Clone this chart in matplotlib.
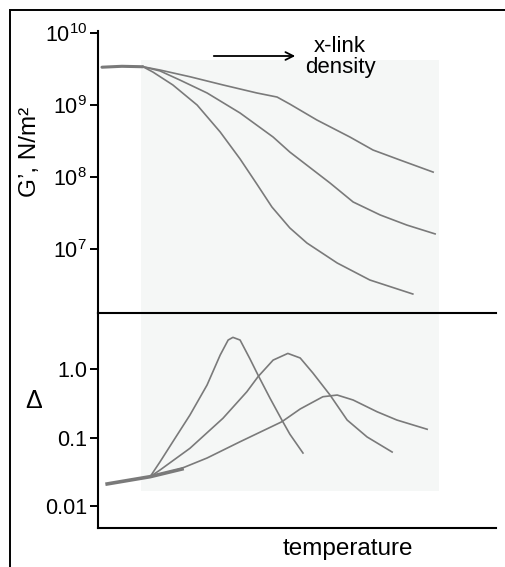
import numpy as np
import matplotlib
matplotlib.use('Agg')
import matplotlib.pyplot as plt
from matplotlib.patches import Rectangle, FancyArrowPatch

plt.rcParams['font.family'] = ['Liberation Sans', 'DejaVu Sans']
plt.rcParams['mathtext.fontset'] = 'custom'
plt.rcParams['mathtext.rm'] = 'Liberation Sans'
plt.rcParams['mathtext.it'] = 'Liberation Sans'

# --- modulus G' (top panel), temperature in arbitrary units 0..100
plateau_t = [1.0, 6.0, 11.3]
plateau_g = [3.35e9, 3.45e9, 3.4e9]

g_low_t = [11.3, 13.8, 18.8, 24.9, 30.7, 35.7, 39.9, 43.7, 48.2, 52.5, 60.1, 68.3, 79.1]
g_low = [3.4e9, 2.87e9, 1.9e9, 1.0e9, 4.22e8, 1.78e8, 8.0e7, 3.83e7, 1.96e7, 1.21e7,
         6.39e6, 3.71e6, 2.37e6]

g_mid_t = [11.3, 15.6, 20.6, 27.4, 35.7, 44.0, 48.2, 58.3, 64.1, 70.9, 77.6, 84.7]
g_mid = [3.4e9, 2.97e9, 2.22e9, 1.47e9, 7.74e8, 3.59e8, 2.22e8, 8.25e7,
         4.5e7, 2.97e7, 2.15e7, 1.62e7]

g_high_t = [11.3, 15.6, 23.1, 31.4, 39.9, 45.0, 48.2, 55.0, 63.3, 69.1, 75.9, 84.2]
g_high = [3.4e9, 3.06e9, 2.47e9, 1.9e9, 1.47e9, 1.29e9, 1.03e9, 6.19e8, 3.59e8,
          2.37e8, 1.72e8, 1.17e8]

# --- damping (bottom panel)
base_t = [2.3, 13.1, 21.1]
base_d = [0.021, 0.0268, 0.0347]

d_low_t = [13.1, 15.6, 18.8, 23.1, 27.4, 30.7, 32.7, 33.9, 35.7, 38.2, 40.2, 43.2,
           46.2, 48.2, 51.5]
d_low = [0.0268, 0.0443, 0.0868, 0.213, 0.584, 1.60, 2.65, 2.90, 2.65, 1.40, 0.817,
         0.377, 0.180, 0.112, 0.0594]

d_mid_t = [13.1, 15.6, 23.1, 31.4, 37.4, 40.2, 44.0, 47.7, 50.8, 54.0, 58.3, 62.6,
           67.6, 73.9]
d_mid = [0.0268, 0.0336, 0.0696, 0.191, 0.466, 0.772, 1.35, 1.69, 1.45, 0.874, 0.417,
         0.180, 0.102, 0.0614]

d_high_t = [13.1, 20.6, 27.4, 35.7, 46.2, 50.8, 56.5, 60.1, 64.1, 70.1, 75.1, 82.7]
d_high = [0.0268, 0.0347, 0.0502, 0.0868, 0.170, 0.261, 0.394, 0.417, 0.353, 0.238,
          0.180, 0.132]

g_ticks = [1e7, 1e8, 1e9, 1e10]
g_labels = ['$10^7$', '$10^8$', '$10^9$', '$10^{10}$']
d_ticks = [0.01, 0.1, 1.0]
d_labels = ['0.01', '0.1', '1.0']

W, H = 506, 567
fig = plt.figure(figsize=(W / 100, H / 100), dpi=100)

# light shaded region behind the curves
fig.patches.append(Rectangle((141 / W, 1 - 491 / H), (439 - 141) / W, (491 - 60) / H,
                             transform=fig.transFigure, facecolor='#f5f7f6',
                             edgecolor='none', zorder=-2))
# outer frame
fig.patches.append(Rectangle((10 / W, -0.1), 1.2, 1 - 10 / H + 0.1,
                             transform=fig.transFigure, facecolor='none',
                             edgecolor='black', lw=1.4, zorder=-1, clip_on=False))

ax1 = fig.add_axes([98 / W, 1 - 313 / H, 398 / W, (313 - 31) / H])
ax2 = fig.add_axes([98 / W, 1 - 528 / H, 398 / W, (528 - 313) / H])

col = '#7a7a7a'
lw = 1.2
ax1.plot(plateau_t, plateau_g, color=col, lw=2.2, solid_capstyle='round')
for t, g in [(g_low_t, g_low), (g_mid_t, g_mid), (g_high_t, g_high)]:
    ax1.plot(t, g, color=col, lw=lw, solid_joinstyle='round')

ax2.plot(base_t, base_d, color=col, lw=2.6)
for t, d in [(d_low_t, d_low), (d_mid_t, d_mid), (d_high_t, d_high)]:
    ax2.plot(t, d, color=col, lw=lw, solid_joinstyle='round')

ax1.set_yscale('log')
ax1.set_ylim(10 ** 6.111, 10 ** 10.028)
ax2.set_yscale('log')
ax2.set_ylim(10 ** -2.321, 10 ** 0.818)

for ax in (ax1, ax2):
    ax.set_zorder(2)
    ax.set_xlim(0, 100)
    ax.patch.set_visible(False)
    ax.set_xticks([])
    ax.spines['right'].set_visible(False)
    ax.tick_params(axis='y', which='major', length=6, width=1.4, pad=2,
                   labelsize=15.5, direction='out')
    for s in ax.spines.values():
        s.set_linewidth(1.5)

ax1.spines['top'].set_visible(False)
ax1.spines['bottom'].set_visible(False)

ax1.set_yticks(g_ticks)
ax1.set_yticklabels(g_labels)
ax2.set_yticks(d_ticks)
ax2.set_yticklabels(d_labels)
ax1.minorticks_off()
ax2.minorticks_off()

fig.text(30 / W, 1 - 152 / H, 'G’, N/m²', rotation=90, ha='center', va='center', fontsize=17.5)
fig.text(34 / W, 1 - 401 / H, 'Δ', ha='center', va='center', fontsize=18)
fig.text(348 / W, 1 - 549 / H, 'temperature', ha='center', va='center', fontsize=17.5)
fig.text(340 / W, 1 - 57 / H, 'x-link\ndensity', ha='center', va='center', fontsize=16,
         linespacing=1.05)
fig.add_artist(FancyArrowPatch((211 / W, 1 - 56 / H), (298 / W, 1 - 56 / H),
                               transform=fig.transFigure, arrowstyle='->',
                               mutation_scale=14, lw=1.3, color='black'))

fig.savefig('out.png', dpi=100)
